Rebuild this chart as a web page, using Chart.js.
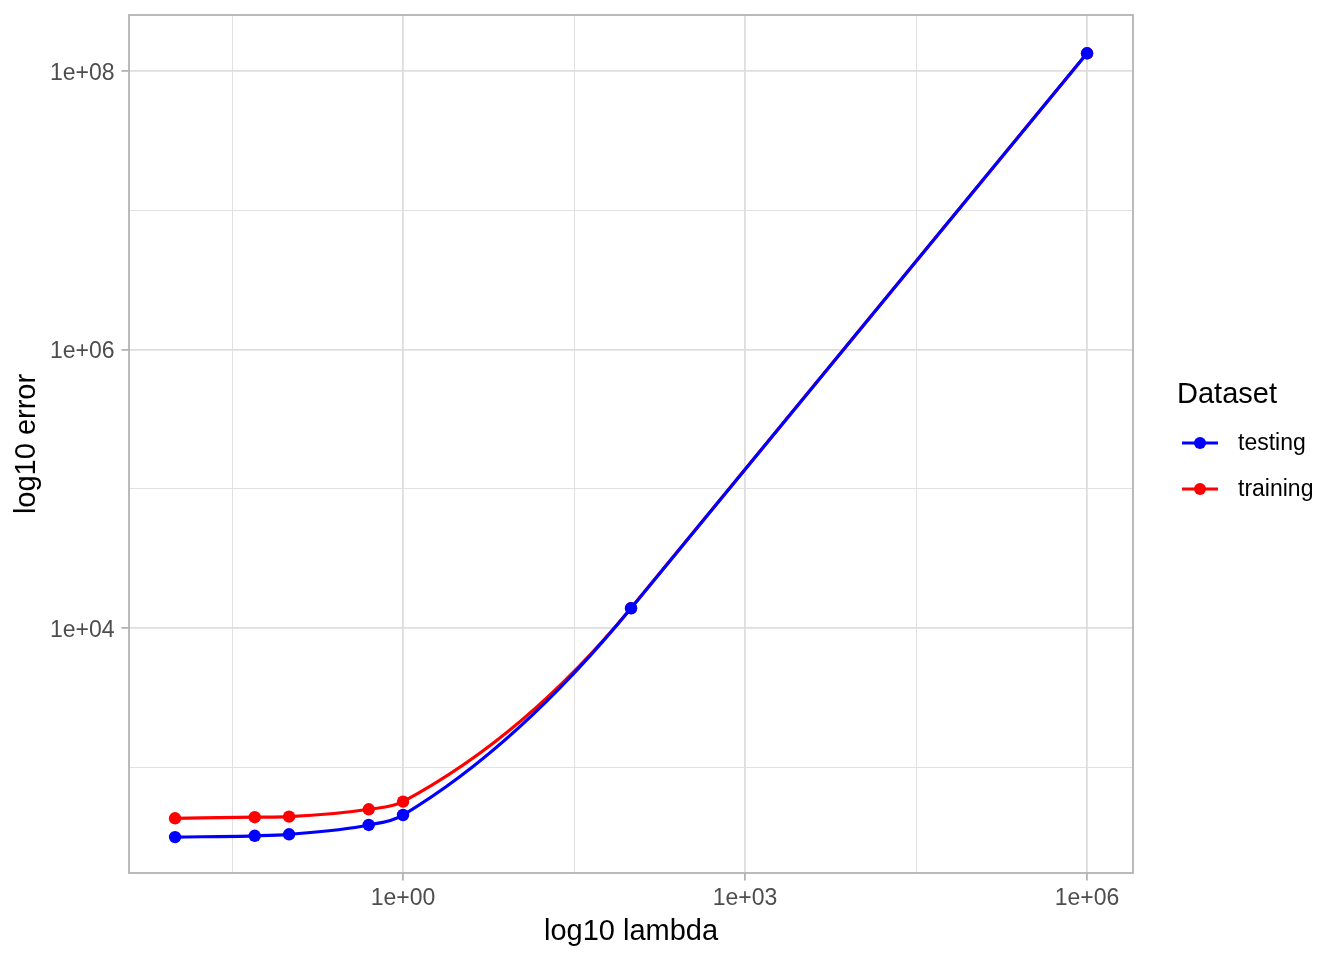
<!DOCTYPE html>
<html>
<head>
<meta charset="utf-8">
<title>log10 error vs log10 lambda</title>
<script src="https://cdn.jsdelivr.net/npm/chart.js@4.4.1/dist/chart.umd.min.js"></script>
<style>
  html, body { margin: 0; padding: 0; background: #ffffff; }
  #wrap { width: 1344px; height: 960px; position: relative; }
</style>
</head>
<body>
<div id="wrap"><canvas id="canvas1" width="1344" height="960"></canvas></div>
<script>
// values
const lambdaValues = [0.01, 0.05, 0.1, 0.5, 1, 100, 1e6];
const testingError = [315, 322, 330, 385, 454, 13850, 1.34e8];
const trainingError = [430, 438, 442, 499, 566, 13900, 1.34e8];

const xTickValues = [1, 1e3, 1e6];
const yTickValues = [1e4, 1e6, 1e8];

const seriesNames = ['testing', 'training'];
const seriesColors = ['#0000FF', '#FF0000'];

const fontFamily = '"Liberation Sans", Arial, Helvetica, sans-serif';

// ggplot style labels: 1e+00, 1e+03 ...
function sciLabel(v) {
  const e = Math.round(Math.log10(v));
  return '1e' + (e < 0 ? '-' : '+') + String(Math.abs(e)).padStart(2, '0');
}

// minor grid lines sit half way (in log) between major ones
function withMinor(major, min, max) {
  let out = [];
  const step = Math.log10(major[1]) - Math.log10(major[0]);
  let start = Math.log10(major[0]);
  while (start - step >= Math.log10(min)) start -= step;
  for (let e = start - step / 2; e <= Math.log10(max); e += step / 2) {
    const v = Math.pow(10, e);
    if (v < min || v > max) continue;
    const isMajor = major.some(function (m) { return Math.abs(Math.log10(m) - e) < 1e-6; });
    out.push({ value: v, minor: !isMajor });
  }
  return out;
}

const xMin = Math.pow(10, -2.404), xMax = Math.pow(10, 6.403);
const yMin = Math.pow(10, 2.2406), yMax = Math.pow(10, 8.402);

const gridOpts = {
  color: '#DEDEDE',
  lineWidth: function (ctx) { return ctx.tick && ctx.tick.minor ? 0.9 : 1.8; },
  tickColor: function (ctx) { return ctx.tick && ctx.tick.minor ? 'rgba(0,0,0,0)' : '#B3B3B3'; },
  tickWidth: 1.8,
  tickLength: 7.5,
  drawTicks: true,
};

// the last stretch of each line is straight in the reference; make the
// bezier there follow the chord, and keep the joint smooth
const straightTail = {
  id: 'straightTail',
  beforeDatasetDraw: function (chart, args) {
    const meta = args.meta;
    const pts = meta.data;
    const n = pts.length;
    if (n < 3) return;
    meta.dataset.updateControlPoints(chart.chartArea, 'x');
    const o = pts[n - 3], p = pts[n - 2], q = pts[n - 1];
    const slope = (q.y - p.y) / (q.x - p.x);
    const dq = (q.x - p.x) / 3;
    const dp = (p.x - o.x) / 3;
    p.cp2x = p.x + dq; p.cp2y = p.y + slope * dq;
    q.cp1x = q.x - dq; q.cp1y = q.y - slope * dq;
    p.cp1x = p.x - dp; p.cp1y = p.y - slope * dp;
  }
};

// panel border + legend drawn by hand, like ggplot's theme_light
const ggExtras = {
  id: 'ggExtras',
  afterDatasetsDraw: function (chart) {
    const a = chart.chartArea;
    const c = chart.ctx;
    c.save();
    c.strokeStyle = '#B3B3B3';
    c.lineWidth = 1.8;
    c.strokeRect(a.left, a.top, a.right - a.left, a.bottom - a.top);
    c.restore();
  },
  afterDraw: function (chart) {
    const c = chart.ctx;
    c.save();
    c.fillStyle = '#000000';
    c.font = '29px ' + fontFamily;
    c.textBaseline = 'alphabetic';
    c.textAlign = 'left';
    c.fillText('Dataset', 1177, 403);
    const keyY = [443, 489];
    for (let i = 0; i < seriesNames.length; i++) {
      c.strokeStyle = seriesColors[i];
      c.lineWidth = 3.2;
      c.beginPath();
      c.moveTo(1182, keyY[i]);
      c.lineTo(1218, keyY[i]);
      c.stroke();
      c.fillStyle = seriesColors[i];
      c.beginPath();
      c.arc(1200, keyY[i], 6, 0, Math.PI * 2);
      c.fill();
      c.fillStyle = '#000000';
      c.font = '23px ' + fontFamily;
      c.textBaseline = 'middle';
      c.fillText(seriesNames[i], 1238, keyY[i] + 1);
    }
    c.restore();
  }
};

function makeSet(i, values) {
  return {
    label: seriesNames[i],
    data: lambdaValues.map(function (x, k) { return { x: x, y: values[k] }; }),
    borderColor: seriesColors[i],
    backgroundColor: seriesColors[i],
    pointBackgroundColor: seriesColors[i],
    pointBorderWidth: 0,
    pointRadius: 6.2,
    borderWidth: 3.2,
    cubicInterpolationMode: 'monotone',
    fill: false,
  };
}

const config = {
  type: 'line',
  data: {
    datasets: [makeSet(0, testingError), makeSet(1, trainingError)]
  },
  options: {
    responsive: false,
    animation: false,
    devicePixelRatio: 1,
    layout: { autoPadding: false, padding: { top: 15, right: 211, left: 0, bottom: 0 } },
    plugins: {
      legend: { display: false },
      tooltip: { enabled: false },
    },
    scales: {
      x: {
        type: 'logarithmic',
        min: xMin,
        max: xMax,
        afterBuildTicks: function (axis) { axis.ticks = withMinor(xTickValues, xMin, xMax); },
        afterFit: function (axis) { axis.height = 87; },
        grid: gridOpts,
        border: { display: false },
        ticks: {
          autoSkip: false,
          maxRotation: 0,
          padding: 4,
          color: '#4D4D4D',
          font: { family: fontFamily, size: 23 },
          callback: function (v, i, ticks) { return ticks[i].minor ? '' : sciLabel(v); }
        },
        title: {
          display: true,
          text: 'log10 lambda',
          color: '#000000',
          font: { family: fontFamily, size: 29 },
          padding: { top: 0, bottom: 11 }
        }
      },
      y: {
        type: 'logarithmic',
        min: yMin,
        max: yMax,
        afterBuildTicks: function (axis) { axis.ticks = withMinor(yTickValues, yMin, yMax); },
        afterFit: function (axis) {
          axis.width = 129;
          axis.paddingTop = 0;
          axis.paddingBottom = 0;
        },
        grid: gridOpts,
        border: { display: false },
        ticks: {
          autoSkip: false,
          padding: 7,
          labelOffset: 2.5,
          color: '#4D4D4D',
          font: { family: fontFamily, size: 23 },
          callback: function (v, i, ticks) { return ticks[i].minor ? '' : sciLabel(v); }
        },
        title: {
          display: true,
          text: 'log10 error',
          color: '#000000',
          font: { family: fontFamily, size: 29 },
          padding: { top: 10, bottom: 0 }
        }
      }
    }
  },
  plugins: [straightTail, ggExtras]
};

new Chart(document.getElementById('canvas1'), config);
</script>
</body>
</html>
